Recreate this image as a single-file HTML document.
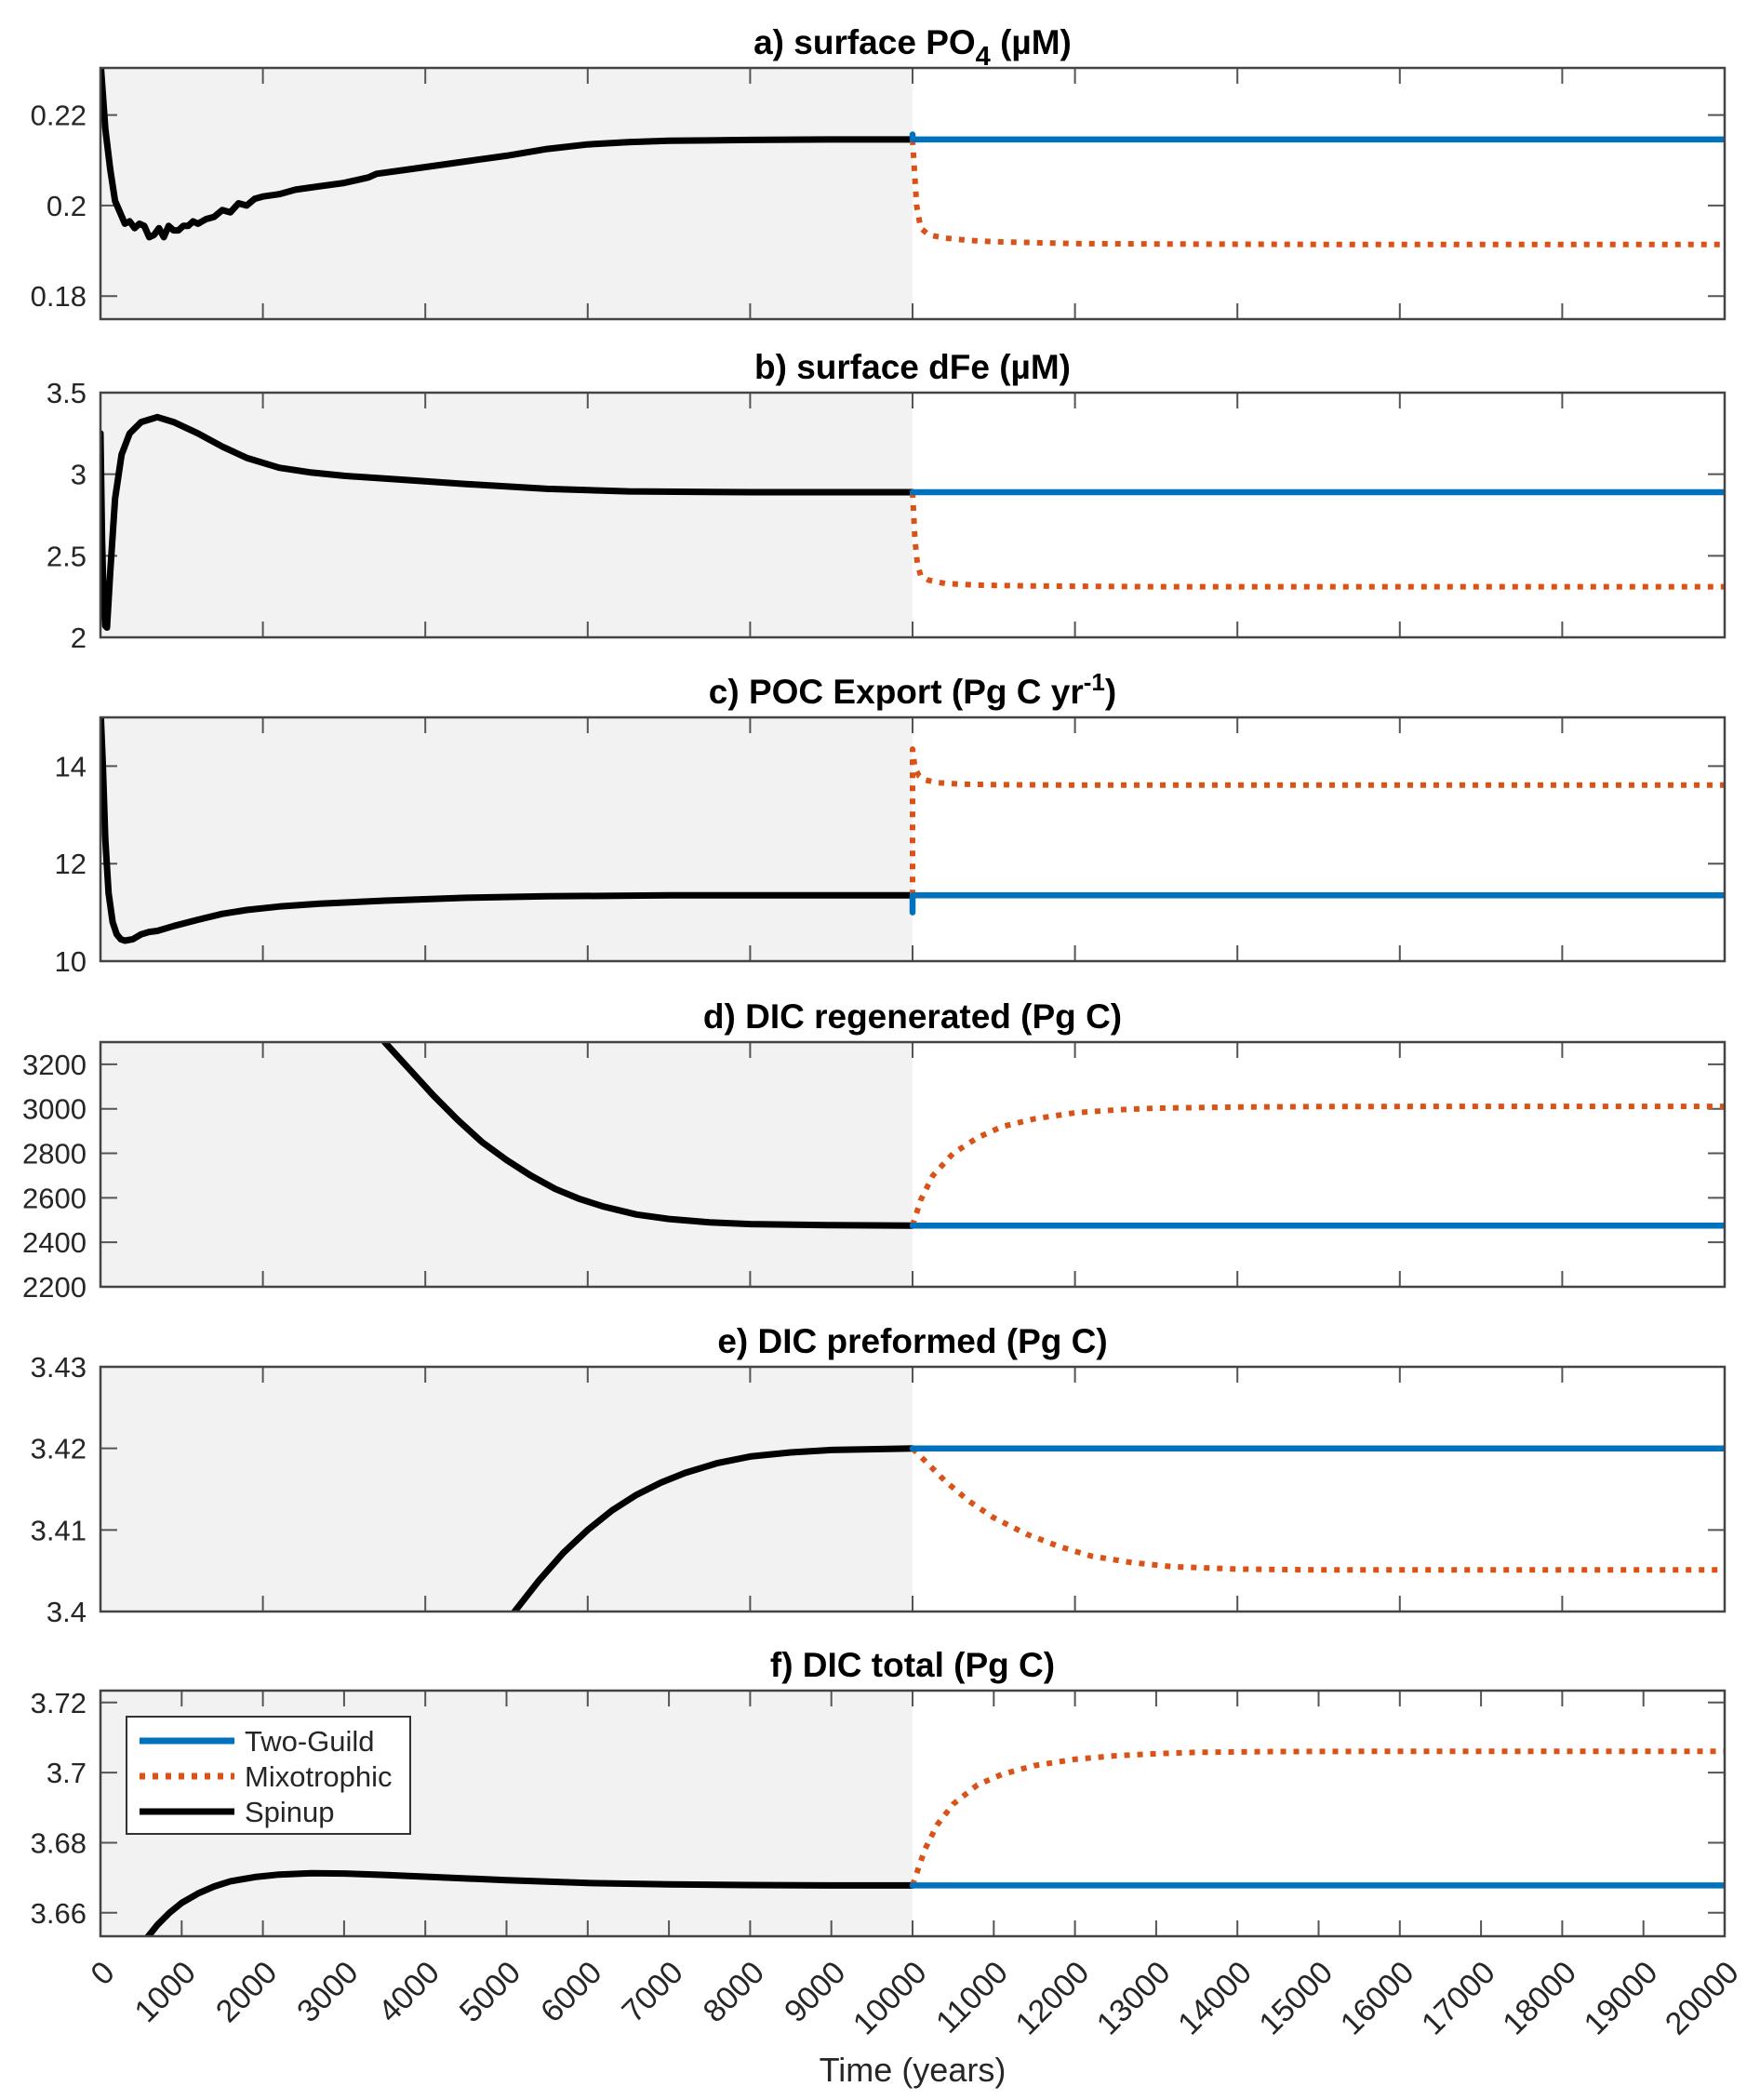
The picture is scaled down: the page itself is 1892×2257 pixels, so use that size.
<!DOCTYPE html>
<html><head><meta charset="utf-8"><style>
html,body{margin:0;padding:0;background:#fff}
svg{display:block}
text{font-family:"Liberation Sans",Arial,sans-serif;fill:#262626}
</style></head><body>
<svg id="fig" width="1892" height="2257" viewBox="0 0 1892 2257" xmlns="http://www.w3.org/2000/svg"></svg>
<script>
// ---- Data ----
const xTicksTop = [0,2000,4000,6000,8000,10000,12000,14000,16000,18000,20000];
const xTicksBottom = [0,1000,2000,3000,4000,5000,6000,7000,8000,9000,10000,11000,12000,13000,14000,15000,16000,17000,18000,19000,20000];

// panel a: surface PO4
const aSpinX = [0,60,120,180,240,300,360,420,480,540,600,660,720,780,840,900,960,1020,1080,1140,1200,1300,1400,1500,1600,1700,1800,1900,2000,2200,2400,2600,2800,3000,3300,3400,3800,4200,4600,5000,5500,6000,6500,7000,8000,9000,10000];
const aSpinY = [0.232,0.217,0.208,0.201,0.1985,0.196,0.1965,0.195,0.196,0.1955,0.193,0.1935,0.195,0.193,0.1955,0.1945,0.1945,0.1955,0.1955,0.1965,0.196,0.197,0.1975,0.199,0.1985,0.2005,0.2,0.2015,0.202,0.2025,0.2035,0.204,0.2045,0.205,0.2062,0.207,0.208,0.209,0.210,0.211,0.2125,0.2135,0.214,0.2143,0.2145,0.2146,0.2146];
const aBlueX = [10000,10000,10020,20000];
const aBlueY = [0.2157,0.2146,0.2146,0.2146];
const aOrgX = [10000,10050,10100,10200,10400,10700,11000,11500,12000,13000,15000,20000];
const aOrgY = [0.2146,0.200,0.195,0.1935,0.1928,0.1923,0.1920,0.1918,0.1916,0.1915,0.1914,0.1914];

// panel b: surface dFe
const bSpinX = [0,20,40,60,80,120,180,260,360,500,700,900,1200,1500,1800,2200,2600,3000,3600,4500,5500,6500,8000,10000];
const bSpinY = [3.25,2.6,2.2,2.07,2.06,2.4,2.85,3.12,3.25,3.32,3.35,3.32,3.25,3.17,3.1,3.04,3.01,2.99,2.97,2.94,2.91,2.895,2.89,2.89];
const bBlueX = [10000,20000];
const bBlueY = [2.89,2.89];
const bOrgX = [10000,10030,10060,10100,10200,10400,10800,11500,13000,20000];
const bOrgY = [2.89,2.6,2.45,2.38,2.35,2.33,2.32,2.315,2.31,2.31];

// panel c: POC export
const cSpinX = [0,30,60,100,150,200,250,300,400,500,600,700,900,1200,1500,1800,2200,2700,3500,4500,5500,7000,8500,10000];
const cSpinY = [15.2,14,12.5,11.4,10.8,10.55,10.45,10.42,10.45,10.55,10.6,10.62,10.72,10.85,10.97,11.05,11.12,11.18,11.24,11.3,11.33,11.35,11.35,11.35];
const cBlueX = [10000,10000,10020,20000];
const cBlueY = [11.0,11.35,11.35,11.35];
const cOrgX = [10000,10000,10030,10080,10150,10300,10600,11000,12000,20000];
const cOrgY = [11.35,14.35,13.95,13.8,13.72,13.66,13.63,13.62,13.61,13.61];

// panel d: DIC regenerated
const dSpinX = [3500,3800,4100,4400,4700,5000,5300,5600,5900,6200,6600,7000,7500,8000,9000,10000];
const dSpinY = [3300,3180,3060,2950,2850,2770,2700,2640,2595,2560,2525,2505,2490,2482,2477,2475];
const dBlueX = [10000,20000];
const dBlueY = [2475,2475];
const dOrgX = [10000,10100,10250,10500,10800,11100,11500,12000,12500,13000,14000,15000,17000,20000];
const dOrgY = [2475,2590,2700,2800,2870,2920,2955,2982,2995,3003,3008,3010,3011,3011];

// panel e: DIC preformed
const eSpinX = [5100,5400,5700,6000,6300,6600,6900,7200,7600,8000,8500,9000,10000];
const eSpinY = [3.4,3.4038,3.4072,3.41,3.4124,3.4143,3.4158,3.4170,3.4182,3.4190,3.4195,3.4198,3.4200];
const eBlueX = [10000,20000];
const eBlueY = [3.4200,3.4200];
const eOrgX = [10000,10200,10400,10700,11000,11400,11800,12200,12700,13200,14000,15000,17000,20000];
const eOrgY = [3.4200,3.4180,3.4160,3.4135,3.4115,3.4095,3.4080,3.4068,3.4060,3.4055,3.4052,3.4051,3.4051,3.4051];

// panel f: DIC total
const fSpinX = [580,700,850,1000,1200,1400,1600,1900,2200,2600,3000,3500,4000,5000,6000,7000,8000,9000,10000];
const fSpinY = [3.653,3.6565,3.6600,3.6628,3.6655,3.6675,3.6690,3.6702,3.6709,3.6713,3.6712,3.6708,3.6703,3.6693,3.6685,3.6681,3.6679,3.6678,3.6678];
const fBlueX = [10000,20000];
const fBlueY = [3.6678,3.6678];
const fOrgX = [10000,10150,10300,10500,10800,11100,11500,12000,12500,13000,13500,14500,16000,20000];
const fOrgY = [3.6678,3.678,3.685,3.691,3.6965,3.6995,3.7020,3.7038,3.7048,3.7054,3.7058,3.7060,3.7061,3.7061];

// ---- Layout ----
const NS = "http://www.w3.org/2000/svg";
const svg = document.getElementById('fig');
const X0 = 108, X1 = 1854;
const BLUE = '#0072BD', ORANGE = '#D95319';
function mk(tag, attrs, parent){
  const e = document.createElementNS(NS, tag);
  for (const k in attrs) e.setAttribute(k, attrs[k]);
  (parent||svg).appendChild(e);
  return e;
}
function xs(v){ return X0 + (v/20000)*(X1-X0); }

const panels = [
  {key:'a', top:73, bot:343, ymin:0.1749, ymax:0.2304, yt:[0.18,0.2,0.22], yl:['0.18','0.2','0.22'], xt:xTicksTop,
   series:[[aSpinX,aSpinY],[aBlueX,aBlueY],[aOrgX,aOrgY]], title:'po4'},
  {key:'b', top:422, bot:685, ymin:2, ymax:3.5, yt:[2,2.5,3,3.5], yl:['2','2.5','3','3.5'], xt:xTicksTop,
   series:[[bSpinX,bSpinY],[bBlueX,bBlueY],[bOrgX,bOrgY]], title:'b) surface dFe (µM)'},
  {key:'c', top:771, bot:1033, ymin:10, ymax:15, yt:[10,12,14], yl:['10','12','14'], xt:xTicksTop,
   series:[[cSpinX,cSpinY],[cBlueX,cBlueY],[cOrgX,cOrgY]], title:'poc'},
  {key:'d', top:1120, bot:1383, ymin:2200, ymax:3300, yt:[2200,2400,2600,2800,3000,3200], yl:['2200','2400','2600','2800','3000','3200'], xt:xTicksTop,
   series:[[dSpinX,dSpinY],[dBlueX,dBlueY],[dOrgX,dOrgY]], title:'d) DIC regenerated (Pg C)'},
  {key:'e', top:1469, bot:1732, ymin:3.4, ymax:3.43, yt:[3.4,3.41,3.42,3.43], yl:['3.4','3.41','3.42','3.43'], xt:xTicksTop,
   series:[[eSpinX,eSpinY],[eBlueX,eBlueY],[eOrgX,eOrgY]], title:'e) DIC preformed (Pg C)'},
  {key:'f', top:1817, bot:2081, ymin:3.6533, ymax:3.7234, yt:[3.66,3.68,3.7,3.72], yl:['3.66','3.68','3.7','3.72'], xt:xTicksBottom,
   series:[[fSpinX,fSpinY],[fBlueX,fBlueY],[fOrgX,fOrgY]], title:'f) DIC total (Pg C)'}
];

panels.forEach(p => {
  const g = mk('g', {});
  
  
  const ys = v => p.bot - (v - p.ymin)/(p.ymax - p.ymin)*(p.bot - p.top);
  const h = p.bot - p.top;
  const bg = mk('rect', {x:X0, y:p.top, width:X1-X0, height:h, fill:'#fff'}, g);
  
  
  const sh = mk('rect', {x:X0, y:p.top, width:xs(10000)-X0, height:h, fill:'#f2f2f2'}, g);
  
  
  const cp = mk('clipPath', {id:'clip'+p.key}, g);
  mk('rect', {x:X0, y:p.top, width:X1-X0, height:h}, cp);
  p.xt.forEach(t => {
    const x = xs(t);
    const tk = mk('path', {d:`M${x},${p.top}v17M${x},${p.bot}v-17`, stroke:'#555', 'stroke-width':2}, g);
    
    
  });
  p.yt.forEach((t,i) => {
    const y = ys(t);
    const tk = mk('path', {d:`M${X0},${y}h18M${X1},${y}h-18`, stroke:'#555', 'stroke-width':2}, g);
    
    
    const tl = mk('text', {x:93, y:y+11, 'text-anchor':'end', 'font-size':31}, g);
    tl.textContent = p.yl[i];
    
    
  });
  const styles = [
    {c:'#000', w:7, d:null, n:'spinup-line'},
    {c:BLUE, w:6.5, d:null, n:'two-guild-line'},
    {c:ORANGE, w:6, d:'6 8', n:'mixotrophic-line'}
  ];
  const order = [0,2,1];
  order.forEach(i => {
    const [xsArr, ysArr] = p.series[i];
    const s = styles[i];
    let d = '';
    xsArr.forEach((xv,j) => { d += (j?'L':'M') + xs(xv).toFixed(1) + ',' + ys(ysArr[j]).toFixed(1); });
    const attrs = {d:d, fill:'none', stroke:s.c, 'stroke-width':s.w, 'stroke-linejoin':'round', 'clip-path':`url(#clip${p.key})`};
    if (s.d) attrs['stroke-dasharray'] = s.d; else attrs['stroke-linecap'] = 'round';
    const ln = mk('path', attrs, g);
    
    
  });
  const fr = mk('rect', {x:X0, y:p.top, width:X1-X0, height:h, fill:'none', stroke:'#444', 'stroke-width':2.5}, g);
  
  
  const tt = mk('text', {x:(X0+X1)/2, y:p.top-15, 'text-anchor':'middle', 'font-size':37, 'font-weight':'bold', style:'fill:#000'}, g);
  
  
  if (p.title === 'po4') {
    tt.innerHTML = 'a) surface PO<tspan font-size="29" dy="12">4</tspan><tspan dy="-12"> (µM)</tspan>';
  } else if (p.title === 'poc') {
    tt.innerHTML = 'c) POC Export (Pg C yr<tspan font-size="26" dy="-14">-1</tspan><tspan dy="14">)</tspan>';
  } else tt.textContent = p.title;
});

xTicksBottom.forEach(t => {
  const x = xs(t) + 17, y = 2122;
  const tl = mk('text', {x:x, y:y, 'text-anchor':'end', 'font-size':34, transform:`rotate(-45 ${x} ${y})`});
  tl.textContent = String(t);
  
  
});
const xl = mk('text', {x:(X0+X1)/2, y:2237, 'text-anchor':'middle', 'font-size':36});
xl.textContent = 'Time (years)';



const lg = mk('g', {});


mk('rect', {x:136, y:1845, width:305, height:126, fill:'#fff', stroke:'#333', 'stroke-width':2}, lg);
const legItems = [['Two-Guild', BLUE, null, 1871], ['Mixotrophic', ORANGE, '6 8', 1909], ['Spinup', '#000', null, 1947]];
legItems.forEach(it => {
  const e = mk('g', {}, lg);
  
  
  const a = {d:`M150,${it[3]}H252`, stroke:it[1], 'stroke-width':7};
  if (it[2]) a['stroke-dasharray'] = it[2];
  mk('path', a, e);
  const t = mk('text', {x:263, y:it[3]+11, 'font-size':31}, e);
  t.textContent = it[0];
});
</script>
</body></html>
